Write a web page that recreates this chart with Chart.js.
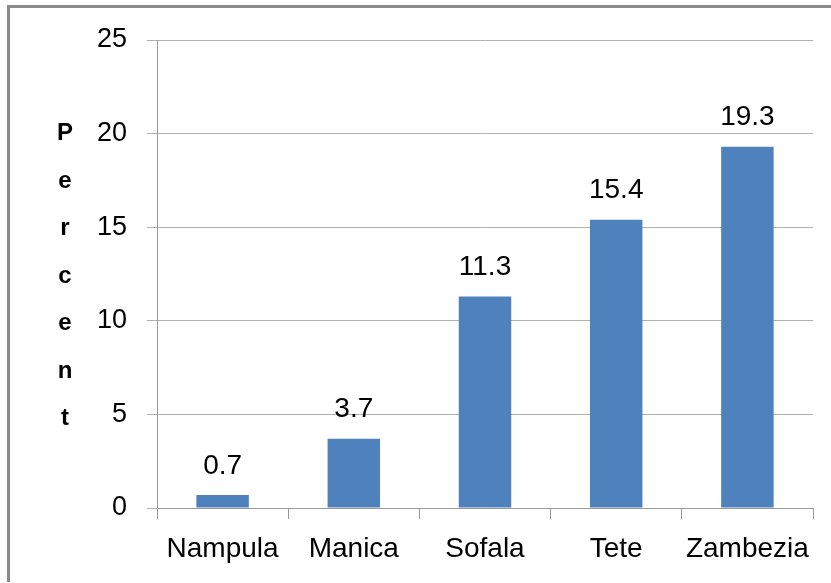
<!DOCTYPE html>
<html>
<head>
<meta charset="utf-8">
<script src="https://cdn.jsdelivr.net/npm/chart.js@4.4.1/dist/chart.umd.min.js"></script>
<style>
    html, body { margin: 0; padding: 0; background: #fff; }
    #wrap { position: relative; width: 831px; height: 583px; }
    #frame {
        position: absolute; left: 7px; top: 5px; width: 830px; height: 574px;
        border-top: 3px solid #8a8a8a; border-left: 3px solid #8a8a8a;
        pointer-events: none;
    }
</style>
</head>
<body>
<div id="wrap">
    <canvas id="chart" width="831" height="583"></canvas>
    <div id="frame"></div>
</div>
<script>
// Chart data
const provinces = ['Nampula', 'Manica', 'Sofala', 'Tete', 'Zambezia'];
const percentValues = [0.7, 3.7, 11.3, 15.4, 19.3];
const yTicks = [0, 5, 10, 15, 20, 25];
const axisTitle = 'Percent';

const FONT = "'Liberation Sans', Arial, sans-serif";

// Value labels above each bar
const barLabels = {
    id: 'barLabels',
    afterDatasetsDraw(chart) {
        const ctx = chart.ctx;
        const meta = chart.getDatasetMeta(0);
        ctx.save();
        ctx.font = '28px ' + FONT;
        ctx.fillStyle = '#000';
        ctx.textAlign = 'center';
        ctx.textBaseline = 'middle';
        meta.data.forEach((bar, i) => {
            ctx.fillText(String(percentValues[i]), bar.x, bar.y - 29);
        });
        ctx.restore();
    }
};

// Vertical axis title, letters stacked one under another
const stackedTitle = {
    id: 'stackedTitle',
    afterDraw(chart) {
        const ctx = chart.ctx;
        const area = chart.chartArea;
        const letters = axisTitle.split('');
        const step = 47.5;
        const mid = (area.top + area.bottom) / 2 + 2;
        ctx.save();
        ctx.font = 'bold 24px ' + FONT;
        ctx.fillStyle = '#000';
        ctx.textAlign = 'center';
        ctx.textBaseline = 'middle';
        letters.forEach((ch, i) => {
            ctx.fillText(ch, 65, mid + (i - (letters.length - 1) / 2) * step);
        });
        ctx.restore();
    }
};

new Chart(document.getElementById('chart'), {
    type: 'bar',
    data: {
        labels: provinces,
        datasets: [{
            data: percentValues,
            backgroundColor: '#4f81bd',
            borderWidth: 0,
            categoryPercentage: 1,
            barPercentage: 0.4
        }]
    },
    options: {
        responsive: false,
        animation: false,
        layout: { padding: { top: 40, right: 18, bottom: 0, left: 0 } },
        plugins: {
            legend: { display: false },
            tooltip: { enabled: false }
        },
        scales: {
            x: {
                afterFit(scale) { scale.height = 75; },
                grid: {
                    offset: true,
                    drawOnChartArea: false,
                    tickLength: 11,
                    color: '#999'
                },
                border: { color: '#999', width: 1 },
                ticks: {
                    color: '#000',
                    padding: 13,
                    font: { family: FONT, size: 28 }
                }
            },
            y: {
                min: 0,
                max: 25,
                afterFit(scale) { scale.width = 157; },
                afterBuildTicks(scale) { scale.ticks = yTicks.map(v => ({ value: v })); },
                grid: {
                    color: '#b0b0b0',
                    tickLength: 10
                },
                border: { color: '#999', width: 1 },
                ticks: {
                    color: '#000',
                    padding: 20,
                    font: { family: FONT, size: 27 }
                }
            }
        }
    },
    plugins: [barLabels, stackedTitle]
});
</script>
</body>
</html>
